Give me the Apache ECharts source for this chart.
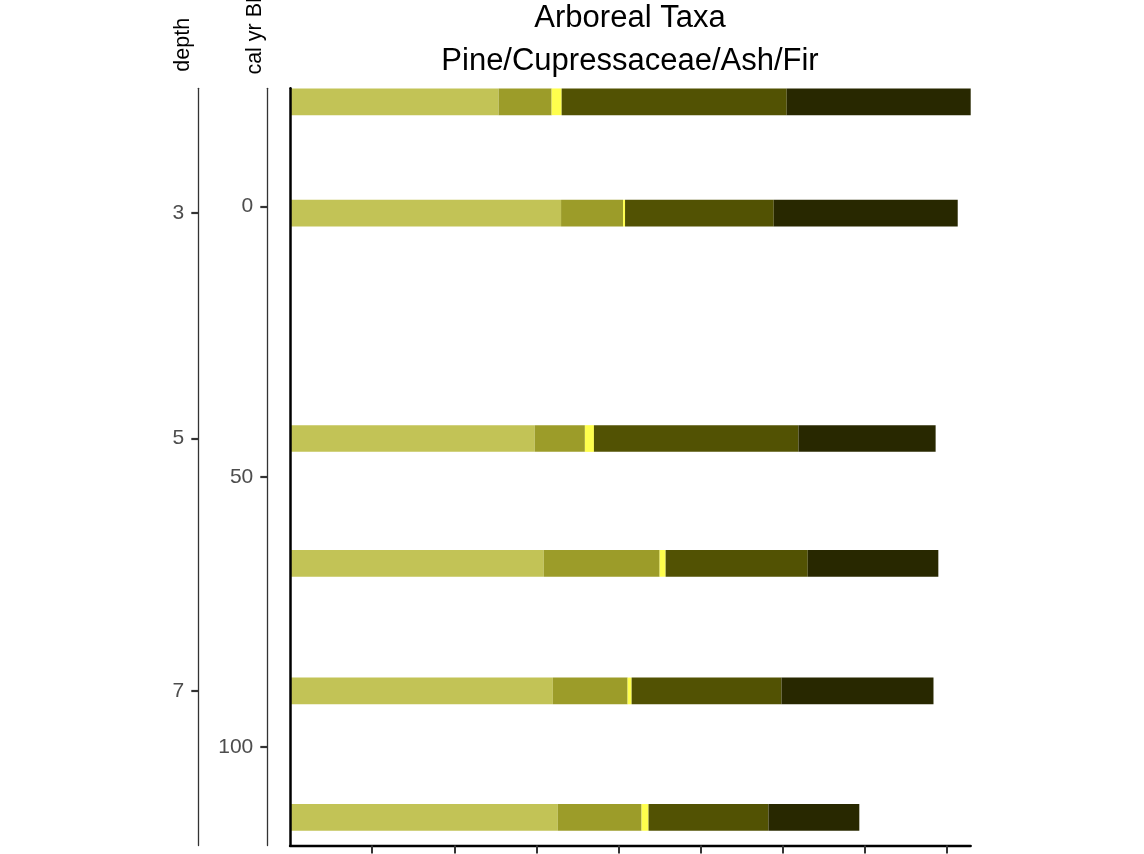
<!DOCTYPE html>
<html>
<head>
<meta charset="utf-8">
<script src="https://cdn.jsdelivr.net/npm/echarts@6/dist/echarts.min.js"></script>
<style>
  html, body { margin: 0; padding: 0; background: #ffffff; }
  #chart { width: 1144px; height: 854px; }
</style>
</head>
<body>
<div id="chart"></div>
<script>
// ---- data ----
const depths = [2, 3, 5, 6, 7, 8];
const ages = [-19.4, 1.2, 42.9, 66.0, 89.6, 113.0];           // cal yr BP
const taxa = ['Pine', 'Cupressaceae', 'Other', 'Ash', 'Fir'];
const pine = [25.4, 33.0, 29.8, 30.9, 32.0, 32.6];
const cupressaceae = [6.45, 7.55, 6.1, 14.1, 9.1, 10.2];
const other = [1.22, 0.24, 1.1, 0.73, 0.49, 0.85];
const ash = [27.4, 18.1, 24.9, 17.3, 18.25, 14.6];
const fir = [22.4, 22.4, 16.7, 15.9, 18.5, 11.06];
const depthTicks = [3, 5, 7];
const ageTicks = [0, 50, 100];
const xTicks = [10, 20, 30, 40, 50, 60, 70, 80];

const colors = ['#C2C356', '#9C9C29', '#FFFF4D', '#525203', '#282800'];
const values = [pine, cupressaceae, other, ash, fir];
const BAR_T = 4.94; // bar thickness in cal yr units

// cumulative stacking
const cum = ages.map(() => 0);
const series = values.map((arr, k) => {
  const rows = arr.map((v, i) => {
    const s = cum[i];
    cum[i] += v;
    return [s, cum[i], ages[i]];
  });
  return {
    type: 'custom',
    name: taxa[k],
    xAxisIndex: 0,
    yAxisIndex: 0,
    itemStyle: { color: colors[k] },
    encode: { x: [0, 1], y: 2 },
    data: rows,
    z: 2,
    renderItem: function (params, api) {
      const a = api.coord([api.value(0), api.value(2)]);
      const b = api.coord([api.value(1), api.value(2)]);
      const h = api.size([0, BAR_T])[1];
      return {
        type: 'rect',
        shape: { x: a[0], y: a[1] - h / 2, width: b[0] - a[0], height: h },
        style: { fill: api.visual('color') }
      };
    }
  };
});

const depthTickAges = depthTicks.map(d => ages[depths.indexOf(d)]);
const xMax = Math.max.apply(null, cum);

const FONT = "'Liberation Sans', Arial, Helvetica, sans-serif";
const yMin = -21.9, yMax = 118.2;

const chart = echarts.init(document.getElementById('chart'), null, { renderer: 'canvas' });
chart.setOption({
  animation: false,
  backgroundColor: '#ffffff',
  title: [
    { text: 'Arboreal Taxa', left: 630, top: 2.5, textAlign: 'center', padding: 0,
      textStyle: { fontFamily: FONT, fontSize: 31, fontWeight: 'normal', color: '#000' } },
    { text: 'Pine/Cupressaceae/Ash/Fir', left: 630, top: 45.5, textAlign: 'center', padding: 0,
      textStyle: { fontFamily: FONT, fontSize: 31, fontWeight: 'normal', color: '#000' } }
  ],
  grid: { left: 290, right: 1144 - 970.7, top: 88.3, bottom: 8.5, containLabel: false },
  xAxis: {
    type: 'value', min: 0, max: xMax, z: 10,
    axisLine: { show: true, onZero: false, lineStyle: { color: '#000', width: 2.4 } },
    axisTick: { show: true, customValues: xTicks, length: 8, lineStyle: { color: '#333', width: 2 } },
    axisLabel: { show: false },
    splitLine: { show: false }
  },
  yAxis: [
    {
      type: 'value', inverse: true, min: yMin, max: yMax, position: 'left', z: 10,
      axisLine: { show: true, onZero: false, lineStyle: { color: '#000', width: 2.5 } },
      axisTick: { show: false }, axisLabel: { show: false }, splitLine: { show: false }
    },
    {
      type: 'value', inverse: true, min: yMin, max: yMax, position: 'left', offset: 22.7,
      axisLine: { show: true, onZero: false, lineStyle: { color: '#333', width: 1.3 } },
      axisTick: { show: true, customValues: ageTicks, length: 7, lineStyle: { color: '#333', width: 2.2 } },
      axisLabel: { show: true, customValues: ageTicks, margin: 14,
        fontFamily: FONT, fontSize: 21, color: '#4D4D4D' },
      splitLine: { show: false }
    },
    {
      type: 'value', inverse: true, min: yMin, max: yMax, position: 'left', offset: 91.7,
      axisLine: { show: true, onZero: false, lineStyle: { color: '#333', width: 1.3 } },
      axisTick: { show: true, customValues: depthTickAges, length: 7, lineStyle: { color: '#333', width: 2.2 } },
      axisLabel: { show: true, customValues: depthTickAges, margin: 14,
        fontFamily: FONT, fontSize: 21, color: '#4D4D4D',
        formatter: function (v) {
          let best = 0;
          for (let i = 0; i < ages.length; i++) if (Math.abs(ages[i] - v) < Math.abs(ages[best] - v)) best = i;
          return String(depths[best]);
        } },
      splitLine: { show: false }
    }
  ],
  graphic: [
    { type: 'text', x: 183.5, y: 71.7, rotation: Math.PI / 2,
      style: { text: 'depth', fontFamily: FONT, fontSize: 21.5, fill: '#000', textAlign: 'left', textVerticalAlign: 'middle' } },
    { type: 'text', x: 255.5, y: 74.6, rotation: Math.PI / 2,
      style: { text: 'cal yr BP', fontFamily: FONT, fontSize: 21.5, fill: '#000', textAlign: 'left', textVerticalAlign: 'middle' } }
  ],
  series: series
});
</script>
</body>
</html>
